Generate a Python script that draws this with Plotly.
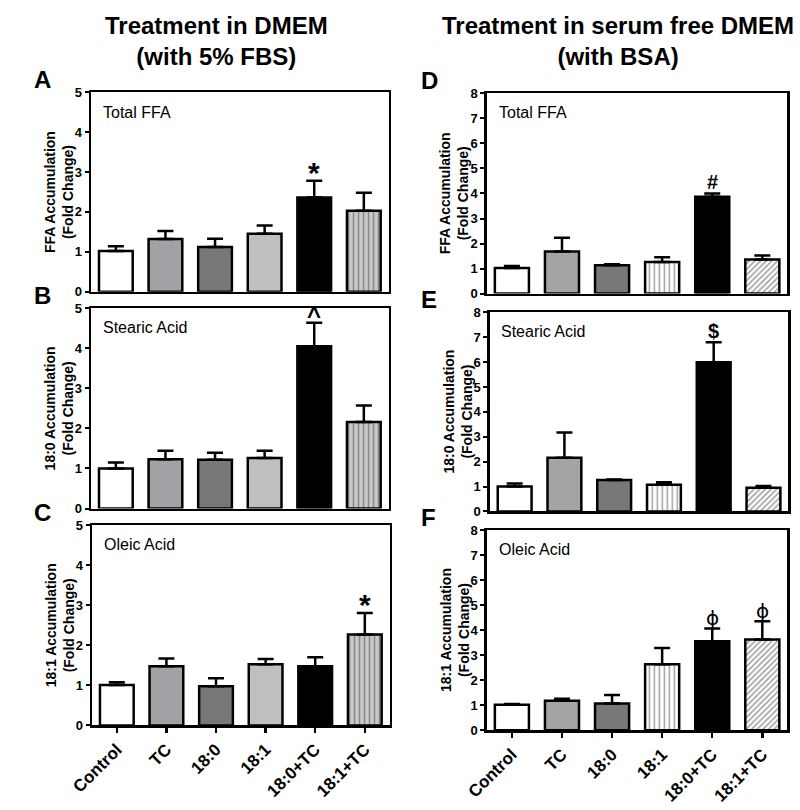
import plotly.graph_objects as go

# ---------------- data ----------------
categories = ["Control", "TC", "18:0", "18:1", "18:0+TC", "18:1+TC"]

A_mean = [1.02, 1.32, 1.12, 1.45, 2.36, 2.03]
A_err = [0.12, 0.20, 0.21, 0.21, 0.42, 0.45]
B_mean = [1.00, 1.23, 1.22, 1.26, 4.05, 2.16]
B_err = [0.15, 0.21, 0.17, 0.18, 0.59, 0.41]
C_mean = [1.01, 1.48, 0.98, 1.53, 1.48, 2.27]
C_err = [0.07, 0.19, 0.20, 0.13, 0.22, 0.54]
D_mean = [1.02, 1.68, 1.13, 1.26, 3.87, 1.36]
D_err = [0.08, 0.55, 0.04, 0.19, 0.13, 0.16]
E_mean = [1.00, 2.16, 1.26, 1.07, 5.99, 0.95]
E_err = [0.12, 1.01, 0.02, 0.10, 0.81, 0.07]
F_mean = [1.02, 1.18, 1.07, 2.64, 3.56, 3.63]
F_err = [0.03, 0.08, 0.34, 0.65, 0.51, 0.73]

A_sig = {4: "*"}
B_sig = {4: "^"}
C_sig = {5: "*"}
D_sig = {4: "#"}
E_sig = {4: "$"}
F_sig = {4: "ϕ", 5: "ϕ"}

left_ymax = 5
right_ymax = 8

titles_left = "Treatment in DMEM<br>(with 5% FBS)"
titles_right = "Treatment in serum free DMEM<br>(with BSA)"

# ---------------- styling ----------------
W, H = 800, 810
FONT = "Liberation Sans, Arial, sans-serif"

def px(x):
    return x / W

def py(y):
    return 1 - y / H

left_style = dict(
    color=["#ffffff", "#a2a2a6", "#787878", "#c0c0c0", "#000000", "#c9c9c9"],
    shape=["", "", "", "", "", "|"],
    fg=["#000000", "#000000", "#000000", "#000000", "#000000", "#bdbdbd"],
    size=[5, 5, 5, 5, 5, 5],
    sol=[0.3, 0.3, 0.3, 0.3, 0.3, 0.3],
)
right_style = dict(
    color=["#ffffff", "#a4a4a6", "#787878", "#ffffff", "#000000", "#ffffff"],
    shape=["", "", "", "|", "", "/"],
    fg=["#000000", "#000000", "#000000", "#000000", "#000000", "#000000"],
    size=[5, 5, 5, 5, 5, 4],
    sol=[0.3, 0.3, 0.3, 0.3, 0.3, 0.4],
)

panels = [
    ("A", A_mean, A_err, A_sig, "FFA Accumulation<br>(Fold Change)", "Total FFA", left_style, left_ymax, (71, 377), (87, 290), False),
    ("B", B_mean, B_err, B_sig, "18:0 Accumulation<br>(Fold Change)", "Stearic Acid", left_style, left_ymax, (71, 377), (307, 511), False),
    ("C", C_mean, C_err, C_sig, "18:1 Accumulation<br>(Fold Change)", "Oleic Acid", left_style, left_ymax, (72, 378), (528, 732), True),
    ("D", D_mean, D_err, D_sig, "FFA Accumulation<br>(Fold Change)", "Total FFA", right_style, right_ymax, (478, 787), (88, 292), False),
    ("E", E_mean, E_err, E_sig, "18:0 Accumulation<br>(Fold Change)", "Stearic Acid", right_style, right_ymax, (481, 788), (311, 514), False),
    ("F", F_mean, F_err, F_sig, "18:1 Accumulation<br>(Fold Change)", "Oleic Acid", right_style, right_ymax, (478, 787), (533, 737), True),
]

fig = go.Figure()
annotations = []
layout_axes = {}

for k, (name, mean, err, sig, ylab, inner, style, ymax, xd, yd, show_x) in enumerate(panels):
    n = k + 1
    xa = "x" if n == 1 else f"x{n}"
    ya = "y" if n == 1 else f"y{n}"
    xkey = "xaxis" if n == 1 else f"xaxis{n}"
    ykey = "yaxis" if n == 1 else f"yaxis{n}"

    fig.add_trace(go.Bar(
        x=list(range(len(categories))),
        y=mean,
        width=0.68,
        xaxis=xa, yaxis=ya,
        marker=dict(
            color=style["color"],
            line=dict(color="black", width=2.5),
            pattern=dict(shape=style["shape"], fgcolor=style["fg"],
                         bgcolor=style["color"], size=style["size"],
                         solidity=style["sol"], fillmode="overlay"),
        ),
        error_y=dict(type="data", symmetric=False, array=err,
                     arrayminus=[0] * len(err), color="black",
                     thickness=2.5, width=8),
        showlegend=False,
        hoverinfo="skip",
    ))

    layout_axes[xkey] = dict(
        domain=[px(xd[0]), px(xd[1])],
        anchor=ya,
        range=[-0.5, len(categories) - 0.5],
        tickmode="array",
        tickvals=list(range(len(categories))),
        ticktext=categories,
        showticklabels=show_x,
        ticks="outside" if show_x else "",
        ticklen=5, tickwidth=2.5, tickcolor="black",
        tickangle=-45,
        tickfont=dict(family=FONT, size=17, color="black", weight="bold"),
        showline=True, linecolor="black", linewidth=2.5, mirror=True,
        showgrid=False, zeroline=False, fixedrange=True,
    )
    layout_axes[ykey] = dict(
        domain=[py(yd[1]), py(yd[0])],
        anchor=xa,
        range=[0, ymax],
        dtick=1, tick0=0,
        ticks="outside", ticklen=4, tickwidth=2, tickcolor="black",
        tickfont=dict(family=FONT, size=13, color="black", weight="bold"),
        showline=True, linecolor="black", linewidth=2.5, mirror=True,
        showgrid=False, zeroline=False, fixedrange=True,
    )

    annotations.append(dict(
        text=ylab, textangle=-90, showarrow=False,
        xref="paper", yref="paper",
        x=px(xd[0] - 33), y=py((yd[0] + yd[1]) / 2),
        xanchor="center", yanchor="middle",
        font=dict(family=FONT, size=14, color="black", weight="bold"),
    ))
    annotations.append(dict(
        text=inner, showarrow=False,
        xref="paper", yref="paper",
        x=px(xd[0] + 10), y=py(yd[0] + 20),
        xanchor="left", yanchor="middle",
        font=dict(family=FONT, size=16, color="black"),
    ))
    annotations.append(dict(
        text=f"<b>{name}</b>", showarrow=False,
        xref="paper", yref="paper",
        x=px(10 if xd[0] < 400 else 408), y=py(yd[0] - 13),
        xanchor="left", yanchor="middle",
        font=dict(family=FONT, size=24, color="black"),
    ))
    for i, sym in sig.items():
        if sym == "*":
            f = dict(family=FONT, size=30, color="black", weight="bold"); ys = -10
        elif sym == "^":
            f = dict(family=FONT, size=24, color="black", weight="bold"); ys = -8
        elif sym == "ϕ":
            f = dict(family="DejaVu Sans", size=20, color="black"); ys = -4
        else:
            f = dict(family=FONT, size=20, color="black", weight="bold"); ys = -2
        annotations.append(dict(
            text=sym, showarrow=False, xref=xa, yref=ya,
            x=i, y=mean[i] + err[i], xanchor="center", yanchor="bottom",
            yshift=ys, font=f,
        ))

annotations.append(dict(text=titles_left, showarrow=False, xref="paper", yref="paper",
                        x=px(200), y=py(35), xanchor="center", yanchor="middle",
                        font=dict(family=FONT, size=24, color="black", weight="bold")))
annotations.append(dict(text=titles_right, showarrow=False, xref="paper", yref="paper",
                        x=px(613), y=py(35), xanchor="center", yanchor="middle",
                        font=dict(family=FONT, size=24, color="black", weight="bold")))

fig.update_layout(
    width=W, height=H,
    margin=dict(l=0, r=0, t=0, b=0),
    paper_bgcolor="white", plot_bgcolor="white",
    annotations=annotations,
    **layout_axes,
)

fig.write_html(
    "out.html",
    config={"displayModeBar": False, "staticPlot": True},
    post_script="document.body.style.margin='0px';document.body.style.overflow='hidden';",
)
